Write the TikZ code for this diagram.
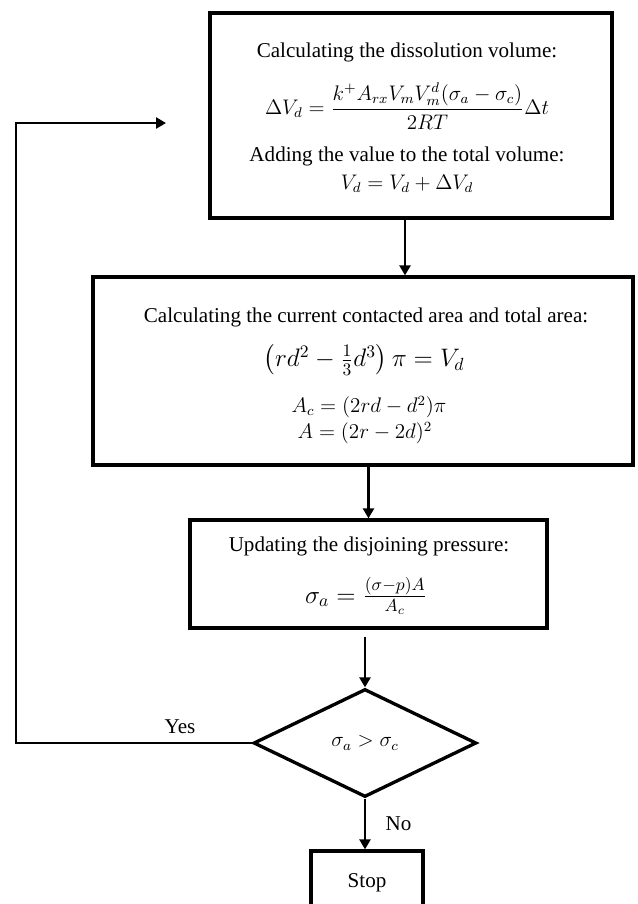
\documentclass[tikz,border=0pt]{standalone}
\usepackage{fontspec}
\setmainfont{Liberation Serif}
\usepackage{amsmath}
\usetikzlibrary{arrows.meta,positioning,calc,shapes.geometric}
\tikzset{
  >={Triangle[length=2mm,width=2.2mm]},
  box/.style={draw=black,line width=1.9pt,fill=white,align=center,inner sep=2pt,font=\fontsize{12}{14.4}\selectfont},
  dec/.style={box,diamond,inner sep=0pt},
  txt/.style={font=\fontsize{12}{14.4}\selectfont,inner sep=1pt},
  bigtxt/.style={font=\fontsize{14.5}{17}\selectfont,inner sep=1pt},
  flow/.style={->,line width=1.5pt},
  lbl/.style={font=\fontsize{12}{14.4}\selectfont,inner sep=1pt},
}

\begin{document}
\begin{tikzpicture}[x=0.02cm,y=-0.02cm]
  \useasboundingbox (0,0) rectangle (637,904);
  % steps
  \node[box,minimum width=8.04cm,minimum height=4.1cm] (dis) at (411,115.5) {};
  \node[txt] (dis1) at (407,52) {Calculating the dissolution volume:};
  \node[txt] (dis2) at (407,106) {$\displaystyle \Delta V_d=\frac{k^{+}A_{rx}V_mV_m^{d}(\sigma_a-\sigma_c)}{2RT}\Delta t$};
  \node[txt] (dis3) at (407,156) {Adding the value to the total volume:};
  \node[txt] (dis4) at (407,184) {$V_d=V_d+\Delta V_d$};

  \node[box,minimum width=10.8cm,minimum height=3.76cm] (area) at (363,371) {};
  \node[txt] (area1) at (366,317) {Calculating the current contacted area and total area:};
  \node[bigtxt] (area2) at (364,360) {$\left(rd^2-\frac{1}{3}d^3\right)\pi=V_d$};
  \node[txt] (area3) at (369,407) {$A_c=(2rd-d^2)\pi$};
  \node[txt] (area4) at (365,433) {$A=(2r-2d)^2$};

  \node[box,minimum width=7.14cm,minimum height=2.16cm] (upd) at (368.5,574) {};
  \node[txt] (upd1) at (369,546) {Updating the disjoining pressure:};
  \node[bigtxt] (upd2) at (366,596) {$\sigma_a=\frac{(\sigma-p)A}{A_c}$};

  \node[dec,minimum width=4.46cm,minimum height=2.16cm] (test) at (365,743) {$\sigma_a>\sigma_c$};
  \node[box,minimum width=2.24cm,minimum height=1.28cm] (stop) at (367,883) {Stop};
  \node[lbl] (yes) at (180,727) {Yes};
  \coordinate (corner) at (16,123);
  \coordinate (back) at (166,123);
  % arrows
  \draw[flow] ([xshift=-0.12cm]dis.south) -- ([xshift=-0.12cm]dis.south |- area.north);
  \draw[flow] (upd.north |- area.south) -- (upd.north);
  \draw[flow] ([yshift=-0.14cm]upd.south -| test.north) -- (test.north);
  \draw[flow] (test.south) -- (test.south |- stop.north) node[lbl,midway,right=10pt] {No};
  \draw[flow] (test.west) -| (corner) -- (back);
\end{tikzpicture}
\end{document}
